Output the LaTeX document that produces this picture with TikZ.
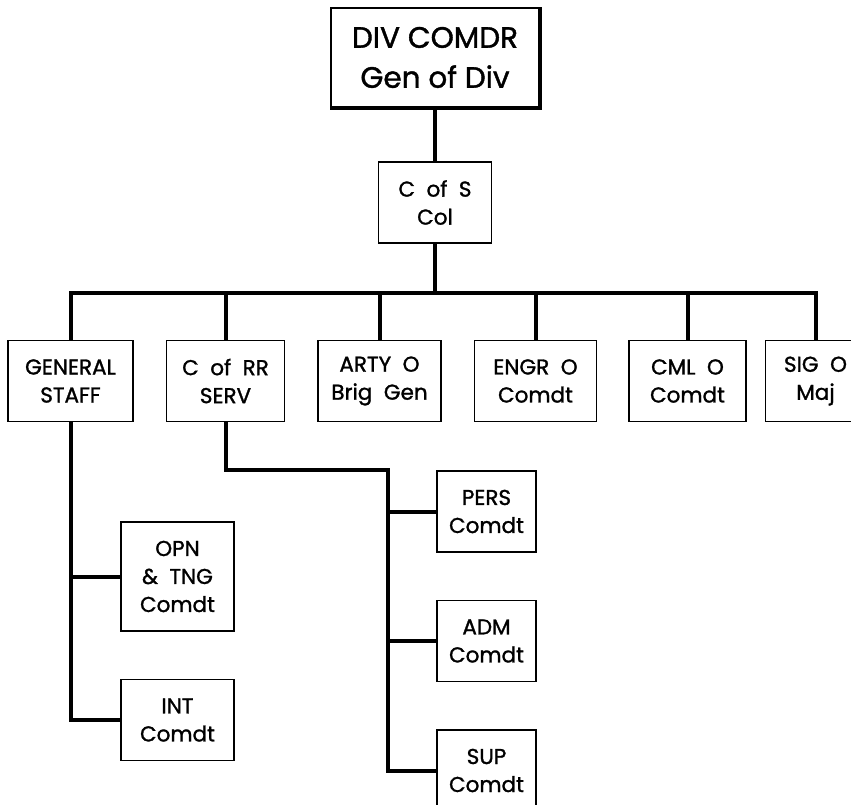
\documentclass[tikz,border=0pt]{standalone}
\usepackage{fontspec}
\setmainfont{Poppins}[FakeBold=1.3]
\usetikzlibrary{positioning}

\tikzset{
  unit/.style={draw, line width=1.5pt, align=center, inner sep=0pt,
    minimum height=81pt, font=\fontsize{21.5}{28}\selectfont},
  link/.style={line width=4pt},
}

\begin{document}
\begin{tikzpicture}[x=1pt,y=1pt]
  \useasboundingbox (0,0) rectangle (851,-805);
  \clip (0,0) rectangle (851,-805);

  % command
  \node[unit, minimum width=208pt, minimum height=99pt, font=\fontsize{29.5}{40}\selectfont]
    (divcomdr) at (435,-57.5) {DIV COMDR\\Gen of Div};
  \draw[line width=4pt] (divcomdr.south west) -- (divcomdr.south east) -- (divcomdr.north east);
  \node[unit, minimum width=113pt] (cofs) at (435,-202.5) {C\ \ of\ \ S\\Col};

  % staff row
  \node[unit, minimum width=125pt] (genstaff) at (70.5,-381) {GENERAL\\STAFF};
  \node[unit, minimum width=118pt, right=32pt of genstaff] (cofrr) {C\ \ of\ \ RR\\SERV};
  \node[unit, minimum width=123pt, right=32pt of cofrr] (arty) {ARTY\ \ O\\Brig\ \ Gen};
  \node[unit, minimum width=122pt, right=32pt of arty] (engr) {ENGR\ \ O\\Comdt};
  \node[unit, minimum width=117pt, right=31pt of engr] (cml) {CML\ \ O\\Comdt};
  \node[unit, minimum width=100pt, right=18pt of cml] (sig) {SIG\ \ O\\Maj};

  % sections under staff and RR
  \node[unit, minimum width=113pt, minimum height=109pt] (opn) at (177.5,-576.5) {OPN\\\&\ \ TNG\\Comdt};
  \node[unit, minimum width=113pt, below=47pt of opn] (int) {INT\\Comdt};
  \node[unit, minimum width=99pt] (pers) at (486.5,-511.5) {PERS\\Comdt};
  \node[unit, minimum width=99pt, below=47pt of pers] (adm) {ADM\\Comdt};
  \node[unit, minimum width=99pt, below=47pt of adm] (sup) {SUP\\Comdt};

  \coordinate (bar) at (435,-293);
  \coordinate (jog) at (388,-470);

  % connectors
  \draw[link] (divcomdr.south) -- (cofs.north);
  \draw[link] (cofs.south) -- (bar);
  \draw[link] (genstaff.north) -- (genstaff.north |- bar) -- (sig.north |- bar) -- (sig.north);
  \foreach \n in {cofrr,arty,engr,cml}
    \draw[link] (\n.north) -- (\n.north |- bar);
  \draw[link] (genstaff.south) |- (int.west);
  \draw[link] (opn.west) -- (opn.west -| genstaff.south);
  \draw[link] (cofrr.south) |- (jog) |- (sup.west);
  \draw[link] (pers.west) -- (pers.west -| jog);
  \draw[link] (adm.west) -- (adm.west -| jog);
\end{tikzpicture}
\end{document}
